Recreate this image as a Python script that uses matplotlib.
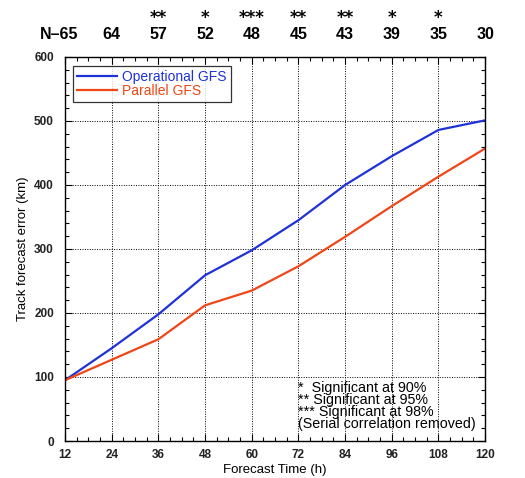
import matplotlib
matplotlib.use("Agg")
import matplotlib.pyplot as plt
from matplotlib.ticker import MultipleLocator

plt.rcParams['font.family'] = ['Liberation Sans', 'DejaVu Sans']

hours = [12, 24, 36, 48, 60, 72, 84, 96, 108, 120]
operational = [95, 145, 198, 259, 298, 345, 400, 445, 486, 501]
parallel = [95, 127, 159, 212, 235, 273, 319, 367, 413, 457]
sample_n = ["65", "64", "57", "52", "48", "45", "43", "39", "35", "30"]
signif = ["", "", "**", "*", "***", "**", "**", "*", "*", ""]

fig = plt.figure(figsize=(5.25, 4.78), dpi=100)
ax = fig.add_axes([0.124, 0.0774, 0.800, 0.8034])

ax.plot(hours, operational, color='#1f32d8', lw=1.6, label='Operational GFS')
ax.plot(hours, parallel, color='#f04616', lw=1.6, label='Parallel GFS')

ax.set_xlim(12, 120)
ax.set_ylim(0, 600)
ax.xaxis.set_major_locator(MultipleLocator(12))
ax.xaxis.set_minor_locator(MultipleLocator(3))
ax.yaxis.set_major_locator(MultipleLocator(100))
ax.yaxis.set_minor_locator(MultipleLocator(20))
ax.tick_params(which='both', direction='in', top=True, right=True, width=0.8)
ax.tick_params(which='major', length=5, labelsize=8.5)
ax.tick_params(axis='y', which='major', pad=8)
ax.tick_params(axis='x', which='major', pad=6)
ax.tick_params(which='minor', length=3)
for lab in ax.get_xticklabels() + ax.get_yticklabels():
    lab.set_fontweight('bold')
    lab.set_color('#222222')
ax.grid(True, which='major', color='black', linestyle=(0, (1, 1.5)), linewidth=0.7)
for s in ax.spines.values():
    s.set_linewidth(1.0)

ax.set_xlabel('Forecast Time (h)', fontsize=9.5, labelpad=2)
ax.set_ylabel('Track forecast error (km)', fontsize=9.5, labelpad=4)

leg = ax.legend(loc='upper left', bbox_to_anchor=(0.012, 0.985), fontsize=10,
                frameon=True, fancybox=False, edgecolor='black', handlelength=2.9,
                borderpad=0.3, labelspacing=0.0, handletextpad=0.35, borderaxespad=0.2)
leg.get_frame().set_linewidth(0.9)
for txt, c in zip(leg.get_texts(), ['#1f32d8', '#f04616']):
    txt.set_color(c)

trans = ax.get_xaxis_transform()
for i, (h, n, s) in enumerate(zip(hours, sample_n, signif)):
    if i == 0:
        ax.annotate('N\u201365', xy=(h, 1.0), xycoords=trans, xytext=(9.4, 16),
                    textcoords='offset points', ha='right', va='center',
                    fontsize=11.5, fontweight='bold')
    else:
        ax.annotate(n, xy=(h, 1.0), xycoords=trans, xytext=(0, 16),
                    textcoords='offset points', ha='center', va='center',
                    fontsize=11.5, fontweight='bold')
    if s:
        ax.annotate(s, xy=(h, 1.0), xycoords=trans, xytext=(0, 28),
                    textcoords='offset points', ha='center', va='center',
                    fontsize=12, fontweight='bold', family='DejaVu Sans')

note = ("*  Significant at 90%\n** Significant at 95%\n*** Significant at 98%\n"
        "(Serial correlation removed)")
ax.text(0.555, 0.025, note, transform=ax.transAxes, ha='left', va='bottom',
        fontsize=10.3, linespacing=0.82)

fig.savefig('out.png', dpi=100)
